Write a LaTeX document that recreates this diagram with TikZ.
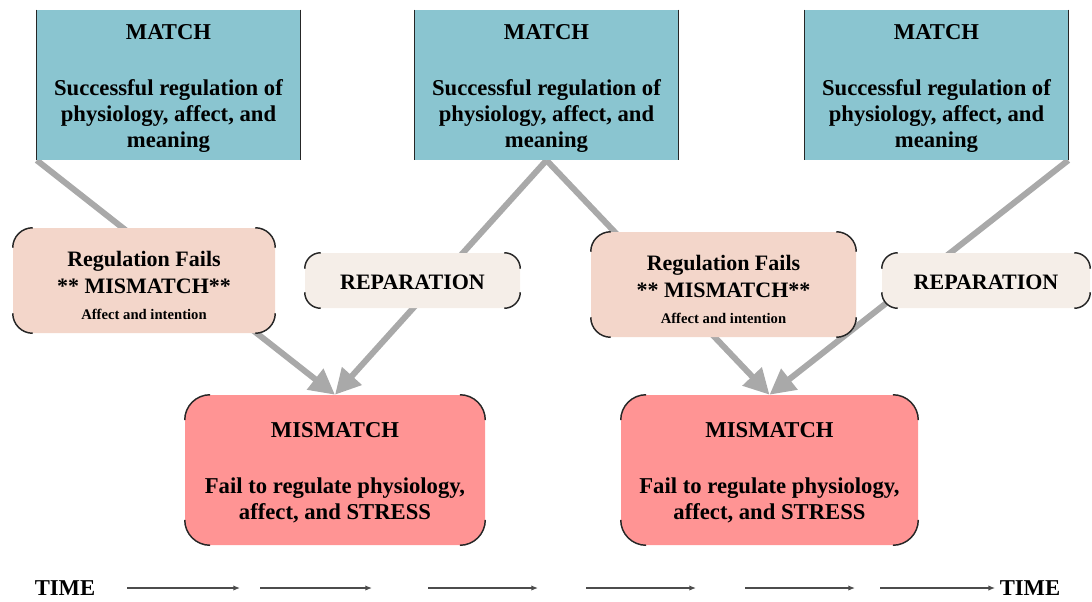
\documentclass[tikz,border=0pt]{standalone}
\usepackage{fontspec}
\setmainfont{Liberation Serif}
\usetikzlibrary{arrows.meta,backgrounds}
\newcommand{\pxu}{0.75pt}
\definecolor{matchblue}{HTML}{8AC5D0}
\definecolor{failpeach}{HTML}{F3D6CA}
\definecolor{repaircream}{HTML}{F5EEE8}
\definecolor{stressred}{HTML}{FF9494}
\definecolor{linkgray}{HTML}{A9A9A9}
\begin{document}
\begin{tikzpicture}[x=0.75pt,y=-0.75pt,%
% common options for the top boxes:
matchbox/.style = {rectangle, fill=matchblue, align=center, inner sep=0,
            minimum width=263*\pxu, minimum height=150*\pxu,
            font=\bfseries\fontsize{17}{19.5}\selectfont},
% common options for the rounded boxes:
failbox/.style = {rectangle, rounded corners=15pt, fill=failpeach, align=center,
            inner sep=0, minimum height=105*\pxu,
            font=\bfseries\fontsize{16.5}{19.5}\selectfont},
repairbox/.style = {rectangle, rounded corners=12pt, fill=repaircream, align=center,
            inner sep=0, minimum height=55*\pxu,
            font=\bfseries\fontsize{16.5}{19.5}\selectfont},
stressbox/.style = {rectangle, rounded corners=19pt, fill=stressred, align=center,
            inner sep=0, minimum height=150*\pxu,
            font=\bfseries\fontsize{17}{19.5}\selectfont},
% the dark corner marks:
corner/.style = {draw=black!85, line width=1.1pt},
% the grey links and the time line:
link/.style = {draw=linkgray, line width=4.5pt, -{Triangle[length=19pt,width=19pt]}},
tick/.style = {draw=black!70, line width=0.9pt, -{Latex[length=5pt,width=4pt]}},
timelabel/.style = {font=\bfseries\fontsize{17}{19.5}\selectfont}]
\useasboundingbox (0,0) rectangle (1092,601);
\node[matchbox] (match1) at (168.5,85) {\rule{0pt}{16pt}MATCH\\[22.5pt]Successful regulation of\\physiology, affect, and\\meaning};
\node[matchbox] (match2) at (546.5,85) {\rule{0pt}{16pt}MATCH\\[22.5pt]Successful regulation of\\physiology, affect, and\\meaning};
\node[matchbox] (match3) at (936.5,85) {\rule{0pt}{16pt}MATCH\\[22.5pt]Successful regulation of\\physiology, affect, and\\meaning};
\node[failbox, minimum width=262*\pxu] (fail1) at (144,280.5) {\rule{0pt}{19pt}Regulation Fails\\[0.75pt]** MISMATCH**\\{\fontsize{11}{12}\selectfont Affect and intention}};
\node[failbox, minimum width=265*\pxu] (fail2) at (723.5,284.5) {\rule{0pt}{19pt}Regulation Fails\\[0.75pt]** MISMATCH**\\{\fontsize{11}{12}\selectfont Affect and intention}};
\node[repairbox, minimum width=215*\pxu] (repair1) at (412.5,280.5) {\rule{0pt}{14pt}REPARATION};
\node[repairbox, minimum width=208*\pxu] (repair2) at (986,280.5) {\rule{0pt}{14pt}REPARATION};
\node[stressbox, minimum width=300*\pxu] (stress1) at (335,470) {\rule{0pt}{16pt}MISMATCH\\[22.5pt]Fail to regulate physiology,\\affect, and STRESS};
\node[stressbox, minimum width=297*\pxu] (stress2) at (769.5,470) {\rule{0pt}{16pt}MISMATCH\\[22.5pt]Fail to regulate physiology,\\affect, and STRESS};
% dark side edges and corners
\foreach \b in {match1,match2,match3}
  \draw[corner] (\b.north west) -- (\b.south west)
        (\b.north east) -- (\b.south east);
\foreach \b/\r in {fail1/15pt,fail2/15pt,repair1/12pt,repair2/12pt,stress1/19pt,stress2/19pt}
  \draw[corner]
    ([yshift=-\r]\b.north west) arc[start angle=180, end angle=90, radius=\r]
    ([xshift=-\r]\b.north east) arc[start angle=90, end angle=0, radius=\r]
    ([yshift=\r]\b.south east) arc[start angle=0, end angle=-90, radius=\r]
    ([xshift=\r]\b.south west) arc[start angle=270, end angle=180, radius=\r];
\begin{scope}[on background layer]
\draw[link] (match1.south west) -- (stress1.north);
\draw[link] (match2.south) -- (stress1.north);
\draw[link] (match2.south) -- (stress2.north);
\draw[link] (match3.south east) -- (stress2.north);
\end{scope}
% time line
\node[timelabel] (time1) at (65,588) {TIME};
\node[timelabel] (time2) at (1030,588) {TIME};
\foreach \i/\a/\b in {1/127/240, 2/260/372, 3/428/538, 4/586/696, 5/745/855}
  \draw[tick] (\a,588) coordinate (t\i a) -- (\b,588) coordinate (t\i b);
\coordinate (t6a) at (880,588);
\draw[tick] (t6a) -- (time2.west);
\end{tikzpicture}
\end{document}
